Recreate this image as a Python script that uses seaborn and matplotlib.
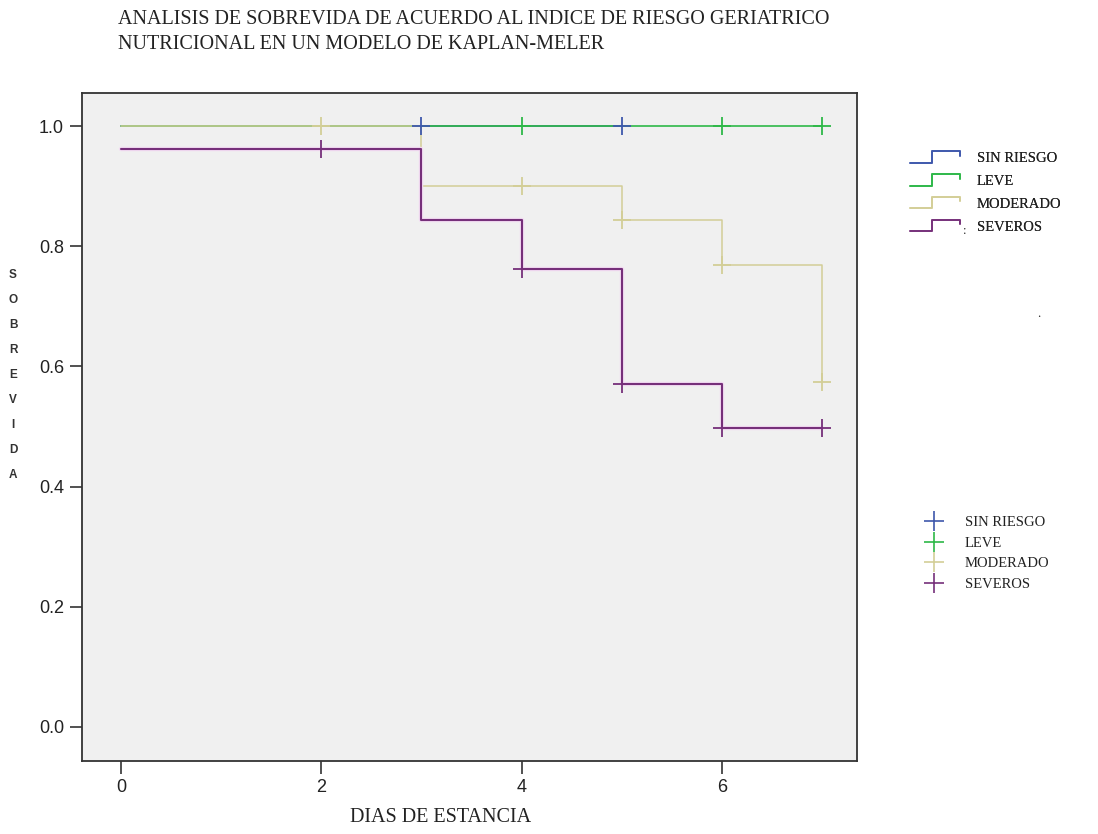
import numpy as np
import pandas as pd
import matplotlib
matplotlib.use("Agg")
import matplotlib.pyplot as plt
import seaborn as sns
from matplotlib.lines import Line2D
from matplotlib.legend_handler import HandlerBase
import matplotlib.patheffects as pe

# ---- data ----
groups = ["SIN RIESGO", "LEVE", "MODERADO", "SEVEROS"]
colors = ["#3E58AC", "#2EB848", "#D3CE97", "#76307A"]

step_t_sin = [0, 5]
step_s_sin = [1.0, 1.0]
step_t_leve = [0, 7]
step_s_leve = [1.0, 1.0]
step_t_mod = [0, 3, 5, 6, 7]
step_s_mod = [1.0, 0.900, 0.844, 0.768, 0.574]
step_t_sev = [0, 3, 4, 5, 6, 7]
step_s_sev = [0.962, 0.843, 0.762, 0.571, 0.498, 0.498]

cens_t_sin = [3, 5]
cens_s_sin = [1.0, 1.0]
cens_t_leve = [4, 6, 7]
cens_s_leve = [1.0, 1.0, 1.0]
cens_t_mod = [2, 4, 5, 6, 7]
cens_s_mod = [1.0, 0.900, 0.844, 0.768, 0.574]
cens_t_sev = [2, 4, 5, 6, 7]
cens_s_sev = [0.962, 0.762, 0.571, 0.498, 0.498]

x_ticks = [0, 2, 4, 6]
y_ticks = [0.0, 0.2, 0.4, 0.6, 0.8, 1.0]

title = "ANALISIS DE SOBREVIDA DE ACUERDO AL INDICE DE RIESGO GERIATRICO\nNUTRICIONAL EN UN MODELO DE KAPLAN-MELER"
xlabel = "DIAS DE ESTANCIA"
ylabel = "SOBREVIDA"

steps = pd.concat([
    pd.DataFrame({"t": t, "s": s, "g": g})
    for t, s, g in zip([step_t_sin, step_t_leve, step_t_mod, step_t_sev],
                       [step_s_sin, step_s_leve, step_s_mod, step_s_sev], groups)
], ignore_index=True)
cens = pd.concat([
    pd.DataFrame({"t": t, "s": s, "g": g})
    for t, s, g in zip([cens_t_sin, cens_t_leve, cens_t_mod, cens_t_sev],
                       [cens_s_sin, cens_s_leve, cens_s_mod, cens_s_sev], groups)
], ignore_index=True)

sns.set_theme(style="white")
plt.rcParams["font.family"] = ["Liberation Sans", "DejaVu Sans"]

fig = plt.figure(figsize=(10.98, 8.34), dpi=100)
ax = fig.add_axes([82 / 1098, (834 - 761) / 834, (857 - 82) / 1098, (761 - 93) / 834])
ax.set_facecolor("#F0F0F0")

lws = [1.2, 1.2, 1.1, 1.5]
for g, c, lw in zip(groups, colors, lws):
    d = steps[steps.g == g]
    kw = {}
    if g == "SEVEROS":
        kw["path_effects"] = [pe.Stroke(linewidth=3.2, foreground="#F3DCF3"), pe.Normal()]
    sns.lineplot(data=d, x="t", y="s", color=c, drawstyle="steps-post",
                 estimator=None, sort=False, lw=lw, ax=ax, legend=False, **kw)
for g, c in zip(groups, colors):
    d = cens[cens.g == g]
    sns.scatterplot(data=d, x="t", y="s", color=c, marker="+", s=170,
                    linewidth=1.3, ax=ax, legend=False, zorder=5)

ax.set_xlim(-0.39, 7.35)
ax.set_ylim(-0.0566, 1.055)
ax.set_xticks(x_ticks)
ax.set_yticks(y_ticks)
ax.set_xticklabels([str(v) for v in x_ticks])
ax.set_yticklabels([f"{v:.1f}" for v in y_ticks])
ax.tick_params(axis="both", direction="out", length=9, width=1.2, color="#333333",
               labelsize=13, labelcolor="#222222", pad=4, left=True, bottom=True)
for sp in ax.spines.values():
    sp.set_color("#333333")
    sp.set_linewidth(1.3)
ax.set_xlabel("")
ax.set_ylabel("")

serif = ["Liberation Serif", "DejaVu Serif"]
fig.text(0.1075, 1 - 10 / 834, title, ha="left", va="top", fontsize=14.5, family=serif,
         color="#222222", linespacing=1.45)
fig.text(441 / 1098, 1 - 818 / 834, xlabel, ha="center", va="center", fontsize=14.5,
         family=serif, color="#222222")
for i, ch in enumerate(ylabel):
    fig.text(13 / 1098, 1 - (275 + 25 * i) / 834, ch, ha="center", va="center",
             fontsize=8.5, fontweight="bold", color="#333333")


class StepHandler(HandlerBase):
    def create_artists(self, legend, orig_handle, xdescent, ydescent, width, height,
                       fontsize, trans):
        x0, y0 = -xdescent, -ydescent
        xs = [x0, x0 + 0.45 * width, x0 + 0.45 * width, x0 + width, x0 + width]
        ys = [y0, y0, y0 + height, y0 + height, y0 + 0.6 * height]
        return [Line2D(xs, ys, color=orig_handle.get_color(), lw=1.2, transform=trans)]


h1 = [Line2D([], [], color=c) for c in colors]
leg1 = fig.legend(h1, groups, loc="upper left", bbox_to_anchor=(910 / 1098, 1 - 151 / 834),
                  bbox_transform=fig.transFigure, frameon=False, handler_map={Line2D: StepHandler()},
                  handlelength=3.4, handleheight=0.85, handletextpad=1.2, labelspacing=0.62,
                  borderpad=0, borderaxespad=0, prop={"family": serif, "size": 10.5})
for t in leg1.get_texts():
    t.set_color("#222222")
fig.add_artist(leg1)

h2 = [Line2D([], [], color=c, marker="+", ls="", markersize=15, mew=1.2) for c in colors]
leg2 = fig.legend(h2, groups, loc="upper left", bbox_to_anchor=(921 / 1098, 1 - 516 / 834),
                  bbox_transform=fig.transFigure, frameon=False,
                  handlelength=1.8, handletextpad=1.2, labelspacing=0.5,
                  borderpad=0, borderaxespad=0, prop={"family": serif, "size": 10.5})
for t in leg2.get_texts():
    t.set_color("#222222")

fig.text(965 / 1098, 1 - 231 / 834, ":", fontsize=9, family=serif, ha="center", va="center")
fig.text(1039 / 1098, 1 - 314 / 834, ".", fontsize=9, family=serif, ha="center", va="center")

fig.savefig("out.png", dpi=100, facecolor="white")
